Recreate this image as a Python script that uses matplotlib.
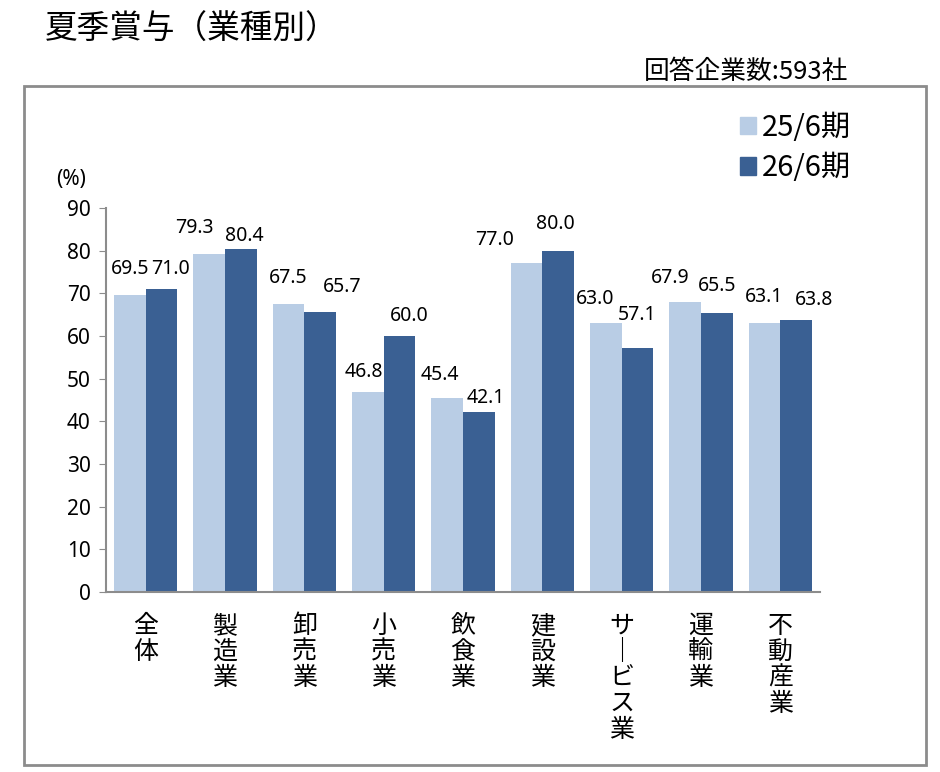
import numpy as np
import matplotlib
matplotlib.use("Agg")
from matplotlib import pyplot as plt
from matplotlib.patches import Rectangle, Patch

plt.rcParams['font.family'] = ['Noto Sans CJK JP', 'DejaVu Sans']

categories = ['全体', '製造業', '卸売業', '小売業', '飲食業', '建設業', 'サービス業', '運輸業', '不動産業']
series_names = ['25/6期', '26/6期']
values_25 = [69.5, 79.3, 67.5, 46.8, 45.4, 77.0, 63.0, 67.9, 63.1]
values_26 = [71.0, 80.4, 65.7, 60.0, 42.1, 80.0, 57.1, 65.5, 63.8]
yticks = [0, 10, 20, 30, 40, 50, 60, 70, 80, 90]

# hand-placed data label nudges (pixels from the top centre of each bar), like the source
nudge_25 = [(0, 26), (-15, 26), (0, 26), (-4, 20), (-7, 23), (-32, 23), (-11, 24), (-15, 24), (0, 26)]
nudge_26 = [(9, 20), (3, 13), (22, 25), (10, 20), (7, 14), (-3, 27), (0, 33), (0, 27), (18, 20)]

light = '#B9CDE5'
dark = '#3A6093'
grey = '#8C8C8C'
num_font = ['Noto Sans', 'DejaVu Sans']


def vertical(name):
    # stack characters; long vowel mark turned for vertical writing
    return '\n'.join('｜' if ch == 'ー' else ch for ch in name)


fig = plt.figure(figsize=(9.4, 7.72), dpi=100)

# outer frame around the chart
fig.patches.append(Rectangle((24 / 940, 1 - 765 / 772), 902 / 940, 679 / 772,
                             transform=fig.transFigure, fill=False,
                             edgecolor=grey, linewidth=2))

fig.text(45 / 940, 1 - 30 / 772, '夏季賞与（業種別）', fontsize=23.5, va='center', ha='left')
fig.text(848 / 940, 1 - 72 / 772, '回答企業数:593社', fontsize=18.5, va='center', ha='right')

ax = fig.add_axes([106 / 940, 1 - 592 / 772, 714 / 940, 384 / 772])
x = np.arange(len(categories))
w = 0.4
b1 = ax.bar(x - w / 2, values_25, w, color=light)
b2 = ax.bar(x + w / 2, values_26, w, color=dark)

for bars, vals, nudges in ((b1, values_25, nudge_25), (b2, values_26, nudge_26)):
    for rect, v, (dx, dy) in zip(bars, vals, nudges):
        ax.annotate(f'{v:.1f}', (rect.get_x() + rect.get_width() / 2, v),
                    xytext=(dx, dy), textcoords='offset pixels',
                    ha='center', va='center', fontsize=14, family=num_font)

ax.set_xlim(-0.5, len(categories) - 0.5)
ax.set_ylim(0, 90)
ax.set_yticks(yticks)
ax.set_yticklabels([str(t) for t in yticks], fontsize=15, family=num_font)
ax.set_xticks(x)
ax.set_xticklabels([vertical(c) for c in categories], fontsize=18, linespacing=1.0, va='top')
ax.tick_params(axis='x', length=0, pad=15)
ax.tick_params(axis='y', length=5, color=grey, pad=6)
for s in ('top', 'right'):
    ax.spines[s].set_visible(False)
for s in ('left', 'bottom'):
    ax.spines[s].set_color(grey)
    ax.spines[s].set_linewidth(1.5)

fig.text(71 / 940, 1 - 180 / 772, '(%)', fontsize=15, va='center', ha='center', family=num_font)

handles = [Patch(color=light), Patch(color=dark)]
fig.legend(handles, series_names, loc='upper left', bbox_to_anchor=(740 / 940, 1 - 113 / 772),
           frameon=False, fontsize=21, handlelength=0.55, handleheight=0.55,
           handletextpad=0.2, labelspacing=0.35, borderpad=0, borderaxespad=0)

fig.savefig('out.png', dpi=100)
